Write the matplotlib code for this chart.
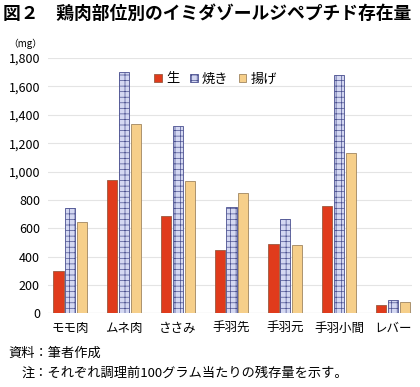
import numpy as np
import matplotlib.pyplot as plt

plt.rcParams['font.family'] = ['Noto Sans CJK JP', 'DejaVu Sans']
plt.rcParams['hatch.linewidth'] = 0.5

parts = ['モモ肉', 'ムネ肉', 'ささみ', '手羽先', '手羽元', '手羽小間', 'レバー']
raw = [300, 940, 685, 445, 492, 760, 62]
grilled = [742, 1700, 1318, 752, 663, 1680, 94]
fried = [645, 1332, 935, 846, 480, 1132, 78]
yticks = [0, 200, 400, 600, 800, 1000, 1200, 1400, 1600, 1800]

fig = plt.figure(figsize=(4.2, 3.87), dpi=100)
ax = fig.add_axes([0.115, 0.19, 0.865, 0.66])

x = np.arange(len(parts))
w = 0.19
step = 0.22
ax.bar(x - step, raw, w, color='#E03B1C', edgecolor='#9A5A40', linewidth=0.6, label='生', zorder=3)
ax.bar(x, grilled, w, color='#D4D8F2', edgecolor='#4A5090', linewidth=0.6, hatch='+++', label='焼き', zorder=3)
ax.bar(x + step, fried, w, color='#F6CF8A', edgecolor='#A08660', linewidth=0.6, label='揚げ', zorder=3)

ax.set_ylim(0, 1800)
ax.set_xlim(-0.41, len(parts) - 0.65)
ax.set_yticks(yticks)
ax.set_yticklabels([f'{v:,}' for v in yticks], fontsize=9)
ax.set_xticks(x)
ax.set_xticklabels(parts, fontsize=9)
ax.tick_params(length=0, pad=6)
ax.grid(axis='y', color='#E4E4E4', linewidth=0.8, zorder=0)
for s in ax.spines.values():
    s.set_visible(False)
ax.axhline(0, color='#D8D8D8', linewidth=0.8, zorder=2)

ax.legend(loc='upper center', bbox_to_anchor=(0.46, 0.99), ncol=3, frameon=False,
          fontsize=9.5, handlelength=0.6, handleheight=0.6, handletextpad=0.3, columnspacing=0.8)

fig.text(0.007, 0.963, '図２　鶏肉部位別のイミダゾールジペプチド存在量', fontsize=12.8, fontweight='bold', va='center')
fig.text(0.02, 0.888, '（mg）', fontsize=7, va='center')
fig.text(0.02, 0.088, '資料：筆者作成', fontsize=9.5, va='center')
fig.text(0.052, 0.035, '注：それぞれ調理前100グラム当たりの残存量を示す。', fontsize=9.5, va='center')

fig.savefig('out.png', dpi=100)
